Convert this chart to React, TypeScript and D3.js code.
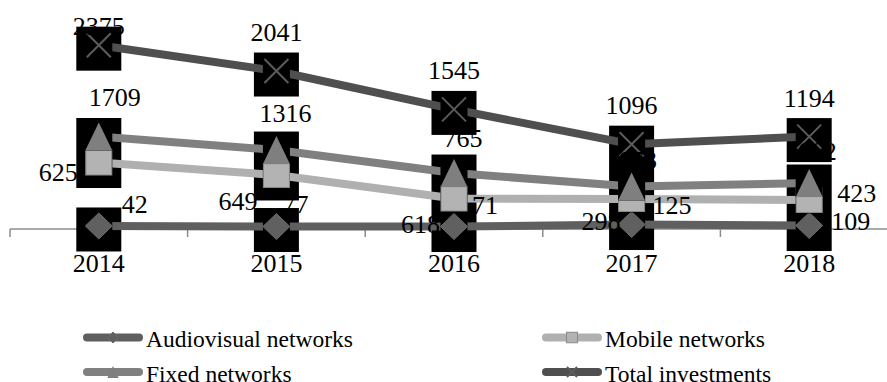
import * as d3 from "d3";

// categories
const years = ["2014", "2015", "2016", "2017", "2018"];

// plotted values
const audiovisual = [39, 32, 32, 58, 45];
const mobile = [859, 698, 394, 388, 375];
const fixed = [1195, 1020, 723, 549, 594];
const total = [2375, 2041, 1545, 1096, 1194];

// data label texts as printed on the chart
const audiovisualLabels = [42, 77, 71, 125, 109];
const mobileLabels = [625, 649, 618, 298, 423];
const fixedLabels = [1709, 1316, 765, 673, 662];
const totalLabels = [2375, 2041, 1545, 1096, 1194];

const W = 887;
const H = 382;
const FONT = "'Liberation Serif', 'Times New Roman', serif";

// label nudges relative to the marker: [anchor, dx, dy]
type Nudge = [string, number, number];
const nudges: Record<string, Nudge[]> = {
  audio: [["start", 23, -13], ["start", 6, -14], ["start", 18, -13], ["start", 21, -11], ["start", 22, 4]],
  mobile: [["end", -21, 18], ["end", -19, 35], ["end", -14, 34], ["end", -11, 31], ["start", 28, 2]],
  fixed: [["middle", 16, -31], ["middle", 9, -28], ["middle", 9, -26], ["middle", 6, -18], ["middle", 8, -23]],
  total: [["middle", 0, -30], ["middle", 0, -30], ["middle", 0, -30], ["middle", 0, -30], ["middle", 0, -30]],
};

const series = [
  { key: "audio", name: "Audiovisual networks", values: audiovisual, labels: audiovisualLabels, color: "#5f5f5f", marker: "diamond" },
  { key: "mobile", name: "Mobile networks", values: mobile, labels: mobileLabels, color: "#b0b0b0", marker: "square" },
  { key: "fixed", name: "Fixed networks", values: fixed, labels: fixedLabels, color: "#808080", marker: "triangle" },
  { key: "total", name: "Total investments", values: total, labels: totalLabels, color: "#4f4f4f", marker: "x" },
];

function Marker({ type, cx, cy, s = 1 }: { type: string; cx: number; cy: number; s?: number }) {
  if (type === "diamond") {
    const w = 13.5 * s, h = 13 * s;
    return <path d={`M${cx},${cy - h}L${cx + w},${cy}L${cx},${cy + h}L${cx - w},${cy}Z`} fill="#606060" stroke="#6a6a6a" strokeWidth={1} />;
  }
  if (type === "square") {
    const w = 13 * s, h = 12.5 * s;
    return <rect x={cx - w} y={cy - h} width={2 * w} height={2 * h} fill="#b3b3b3" stroke="#8a8a8a" strokeWidth={1} />;
  }
  if (type === "triangle") {
    const w = 13.5 * s, h = 14 * s;
    return <path d={`M${cx},${cy - h}L${cx + w},${cy + h}L${cx - w},${cy + h}Z`} fill="#7f7f7f" />;
  }
  const r = 12 * s;
  return (
    <path d={`M${cx - r},${cy - r}L${cx + r},${cy + r}M${cx + r},${cy - r}L${cx - r},${cy + r}`} stroke="#5c5c5c" strokeWidth={2} fill="none" />
  );
}

export default function App() {
  const x = d3.scaleBand().domain(years).range([10, 898]).padding(0);
  const y = d3.scaleLinear().domain([0, 2500]).range([229, 35.5]);
  const cx = (i: number) => (x(years[i]) as number) + x.bandwidth() / 2;

  const line = d3
    .line<number>()
    .x((_, i) => cx(i))
    .y((d) => y(d));

  // black boxes behind markers, merged per year where they overlap
  const boxes: { x: number; y0: number; y1: number }[] = [];
  years.forEach((_, i) => {
    const spans = series
      .map((s) => [y(s.values[i]) - 18.5, y(s.values[i]) + 25.5])
      .sort((a, b) => a[0] - b[0]);
    let cur = spans[0].slice();
    for (let k = 1; k < spans.length; k++) {
      if (spans[k][0] <= cur[1]) cur[1] = Math.max(cur[1], spans[k][1]);
      else {
        boxes.push({ x: cx(i), y0: cur[0], y1: cur[1] });
        cur = spans[k].slice();
      }
    }
    boxes.push({ x: cx(i), y0: cur[0], y1: cur[1] });
  });

  const ticks = years.map((yr) => x(yr) as number).concat([898]);

  const legend = [
    { s: series[0], lx: 83, ly: 337.5 },
    { s: series[2], lx: 83, ly: 372 },
    { s: series[1], lx: 542, ly: 337.5 },
    { s: series[3], lx: 542, ly: 372 },
  ];

  return (
    <div style={{ position: "absolute", left: 0, top: 0 }}>
      <svg width={W} height={H} style={{ display: "block", background: "#fff" }} fontFamily={FONT}>
        {/* category axis */}
        <line x1={10} x2={898} y1={229} y2={229} stroke="#8c8c8c" strokeWidth={1.5} />
        {ticks.map((t, i) => (
          <line key={i} x1={t} x2={t} y1={229} y2={237} stroke="#8c8c8c" strokeWidth={1.5} />
        ))}

        {boxes.map((b, i) => (
          <rect key={i} x={b.x - 22.5} y={b.y0} width={45} height={b.y1 - b.y0} fill="#000" />
        ))}

        {series.map((s) => (
          <path key={s.key} d={line(s.values) || ""} fill="none" stroke={s.color} strokeWidth={8} />
        ))}

        {series.map((s) =>
          s.values.map((v, i) => {
            const px = cx(i);
            const py = y(v);
            const hh = s.marker === "triangle" ? 14 : 13.5;
            return (
              <g key={s.key + i}>
                <rect x={px - 13.5} y={py - hh} width={27} height={2 * hh} fill="#000" />
                <Marker type={s.marker} cx={px} cy={py} />
              </g>
            );
          })
        )}

        {series.map((s) =>
          s.labels.map((lab, i) => {
            const [anchor, dx, dy] = nudges[s.key][i];
            const ty = Math.max(y(s.values[i]) + dy, 35);
            return (
              <text key={s.key + "l" + i} x={cx(i) + dx} y={ty} textAnchor={anchor} fontSize={26} fill="#000">
                {lab}
              </text>
            );
          })
        )}

        {years.map((yr, i) => (
          <text key={yr} x={cx(i)} y={272} textAnchor="middle" fontSize={26} fill="#000">
            {yr}
          </text>
        ))}

        {legend.map(({ s, lx, ly }) => (
          <g key={s.key + "leg"}>
            <line x1={lx + 4} x2={lx + 56} y1={ly} y2={ly} stroke={s.color} strokeWidth={8} strokeLinecap="round" />
            <Marker type={s.marker} cx={lx + 30} cy={ly} s={0.42} />
            <text x={lx + 63} y={ly + 9.5} fontSize={23.5} fill="#000">
              {s.name}
            </text>
          </g>
        ))}
      </svg>
    </div>
  );
}
